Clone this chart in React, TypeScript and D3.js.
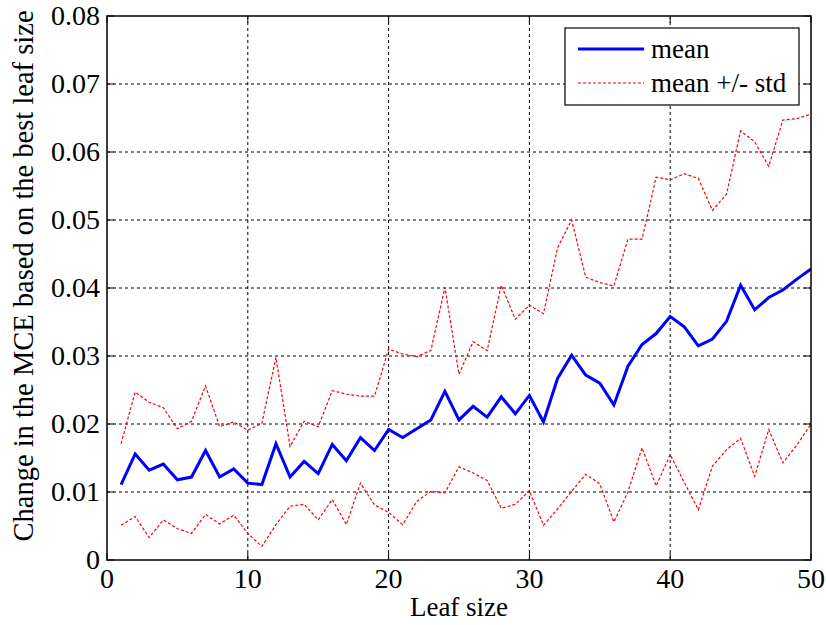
import React from 'react';
import * as d3 from 'd3';

const W = 826;
const H = 625;
const M = { top: 16, right: 15, bottom: 65, left: 107 };

const leafSizes = d3.range(1, 51);

const meanVals = [
  0.0111, 0.0156, 0.0132, 0.0141, 0.0118, 0.0122, 0.0161, 0.0122, 0.0134, 0.0113,
  0.0111, 0.0171, 0.0122, 0.0145, 0.0127, 0.0170, 0.0146, 0.0180, 0.0161, 0.0192,
  0.0180, 0.0193, 0.0206, 0.0248, 0.0206, 0.0226, 0.0210, 0.0240, 0.0215, 0.0242,
  0.0203, 0.0267, 0.0301, 0.0272, 0.0260, 0.0228, 0.0285, 0.0317, 0.0333, 0.0358,
  0.0343, 0.0315, 0.0325, 0.0351, 0.0404, 0.0368, 0.0386, 0.0397, 0.0413, 0.0428,
];

const upperVals = [
  0.0171, 0.0247, 0.0232, 0.0224, 0.0193, 0.0204, 0.0256, 0.0196, 0.0203, 0.0191,
  0.0201, 0.0298, 0.0167, 0.0204, 0.0196, 0.0249, 0.0244, 0.0241, 0.0241, 0.0310,
  0.0303, 0.0299, 0.0308, 0.0401, 0.0273, 0.0321, 0.0308, 0.0404, 0.0354, 0.0375,
  0.0362, 0.0459, 0.0500, 0.0416, 0.0408, 0.0403, 0.0472, 0.0472, 0.0563, 0.0559,
  0.0568, 0.0561, 0.0514, 0.0538, 0.0631, 0.0615, 0.0579, 0.0647, 0.0649, 0.0656,
];

const lowerVals = [
  0.0051, 0.0064, 0.0033, 0.0059, 0.0046, 0.0039, 0.0067, 0.0053, 0.0066, 0.0039,
  0.0020, 0.0052, 0.0079, 0.0082, 0.0059, 0.0089, 0.0052, 0.0113, 0.0081, 0.0070,
  0.0052, 0.0086, 0.0101, 0.0099, 0.0137, 0.0128, 0.0117, 0.0076, 0.0082, 0.0102,
  0.0051, 0.0075, 0.0101, 0.0126, 0.0112, 0.0056, 0.0100, 0.0165, 0.0109, 0.0155,
  0.0114, 0.0074, 0.0138, 0.0162, 0.0179, 0.0123, 0.0192, 0.0143, 0.0169, 0.0200,
];

const xTicks = [0, 10, 20, 30, 40, 50];
const yTicks = [0, 0.01, 0.02, 0.03, 0.04, 0.05, 0.06, 0.07, 0.08];

const FONT = '"Liberation Serif", "Times New Roman", serif';

export default function App() {
  const iw = W - M.left - M.right;
  const ih = H - M.top - M.bottom;
  const x = d3.scaleLinear().domain([0, 50]).range([0, iw]);
  const y = d3.scaleLinear().domain([0, 0.08]).range([ih, 0]);

  const line = d3.line<number>()
    .x((_, i) => x(leafSizes[i]))
    .y(d => y(d));

  const tickLen = 7;

  return (
    <svg width={W} height={H} style={{ position: 'absolute', left: 0, top: 0, background: '#fff' }}
      fontFamily={FONT}>
      <rect width={W} height={H} fill="#fff" />
      <g transform={`translate(${M.left},${M.top})`}>
        {/* grid */}
        {xTicks.slice(1, -1).map(t => (
          <line key={'gx' + t} x1={x(t)} x2={x(t)} y1={0} y2={ih}
            stroke="#000" strokeWidth={1} strokeDasharray="3,3" />
        ))}
        {yTicks.slice(1, -1).map(t => (
          <line key={'gy' + t} x1={0} x2={iw} y1={y(t)} y2={y(t)}
            stroke="#000" strokeWidth={1} strokeDasharray="3,3" />
        ))}

        {/* ticks, inward on all four sides */}
        {xTicks.map(t => (
          <g key={'tx' + t}>
            <line x1={x(t)} x2={x(t)} y1={ih} y2={ih - tickLen} stroke="#000" strokeWidth={1} />
            <line x1={x(t)} x2={x(t)} y1={0} y2={tickLen} stroke="#000" strokeWidth={1} />
            <text x={x(t)} y={ih + 28} textAnchor="middle" fontSize={28} fill="#000">{t}</text>
          </g>
        ))}
        {yTicks.map(t => (
          <g key={'ty' + t}>
            <line x1={0} x2={tickLen} y1={y(t)} y2={y(t)} stroke="#000" strokeWidth={1} />
            <line x1={iw} x2={iw - tickLen} y1={y(t)} y2={y(t)} stroke="#000" strokeWidth={1} />
            <text x={-7} y={y(t)} dy="0.33em" textAnchor="end" fontSize={28} fill="#000">
              {t === 0 ? '0' : d3.format('.2f')(t)}
            </text>
          </g>
        ))}

        {/* series */}
        <path d={line(upperVals) || ''} fill="none" stroke="#ff0000" strokeWidth={1.2} strokeDasharray="3,2" />
        <path d={line(lowerVals) || ''} fill="none" stroke="#ff0000" strokeWidth={1.2} strokeDasharray="3,2" />
        <path d={line(meanVals) || ''} fill="none" stroke="#0000ff" strokeWidth={3} strokeLinejoin="miter" />

        {/* axes box */}
        <rect x={0} y={0} width={iw} height={ih} fill="none" stroke="#000" strokeWidth={1.5} />

        {/* legend */}
        <g transform={`translate(${iw - 246},${12})`}>
          <rect x={0} y={0} width={234} height={77} fill="#fff" stroke="#000" strokeWidth={1.2} />
          <line x1={13} x2={79} y1={21} y2={21} stroke="#0000ff" strokeWidth={3} />
          <text x={86} y={21} dy="0.33em" fontSize={27} fill="#000">mean</text>
          <line x1={13} x2={79} y1={55} y2={55} stroke="#ff0000" strokeWidth={1.2} strokeDasharray="3,2" />
          <text x={86} y={55} dy="0.33em" fontSize={27} fill="#000">mean +/- std</text>
        </g>

        {/* axis labels */}
        <text x={iw / 2} y={ih + 56} textAnchor="middle" fontSize={27} fill="#000">Leaf size</text>
        <text transform={`translate(${-74},${ih / 2 - 12}) rotate(-90)`} textAnchor="middle" fontSize={28.5} fill="#000">
          Change in the MCE based on the best leaf size
        </text>
      </g>
    </svg>
  );
}
